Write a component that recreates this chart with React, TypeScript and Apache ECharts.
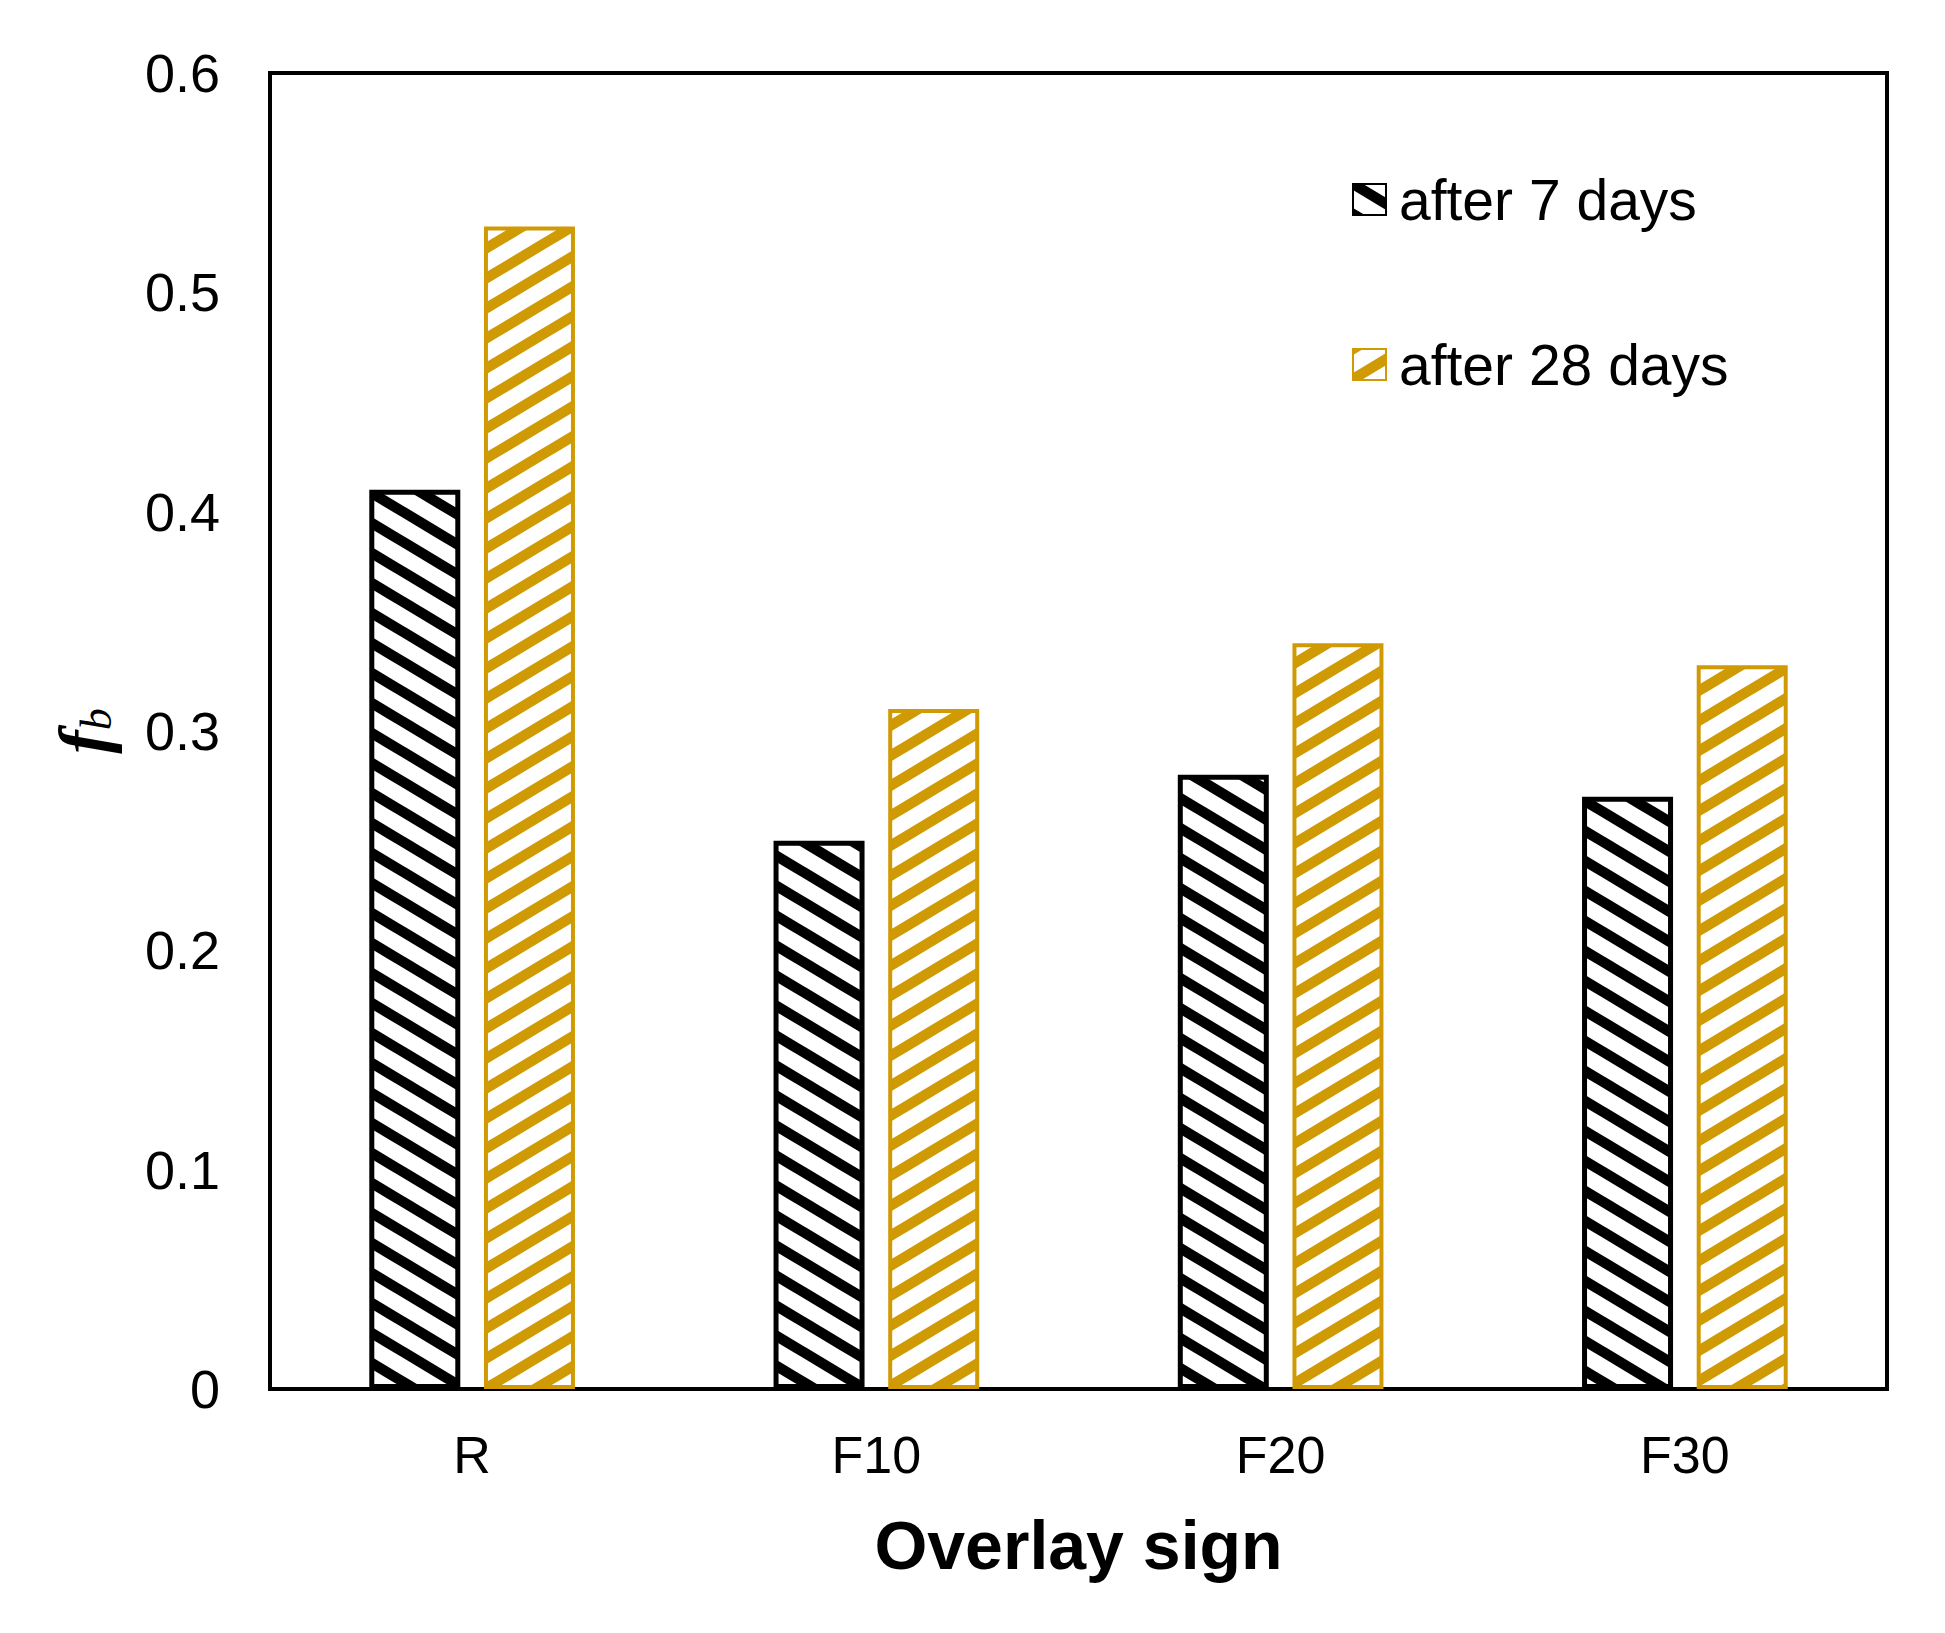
import React, { useEffect, useRef } from "react";
import * as echarts from "echarts";

const categories = ["R", "F10", "F20", "F30"];
const after7 = [0.41, 0.25, 0.28, 0.27];
const after28 = [0.53, 0.31, 0.34, 0.33];
const seriesNames = ["after 7 days", "after 28 days"];

const BLACK = "#000000";
const GOLD = "#D09A04";
const FONT = "Liberation Sans";

function makeStripe(color: string, down: boolean): HTMLCanvasElement {
  const W = 50;
  const H = 30;
  const c = document.createElement("canvas");
  c.width = W;
  c.height = H;
  const ctx = c.getContext("2d")!;
  ctx.fillStyle = "#ffffff";
  ctx.fillRect(0, 0, W, H);
  ctx.strokeStyle = color;
  ctx.lineWidth = 10.5;
  for (const o of [-H, 0, H]) {
    ctx.beginPath();
    if (down) {
      ctx.moveTo(-W, -H + o);
      ctx.lineTo(2 * W, 2 * H + o);
    } else {
      ctx.moveTo(-W, 2 * H + o);
      ctx.lineTo(2 * W, -H + o);
    }
    ctx.stroke();
  }
  return c;
}

export default function App() {
  const ref = useRef<HTMLDivElement>(null);
  useEffect(() => {
    if (!ref.current) return;
    const chart = echarts.init(ref.current, undefined, { renderer: "svg" });
    const blackPattern = { image: makeStripe(BLACK, true), repeat: "repeat" };
    const goldPattern = { image: makeStripe(GOLD, false), repeat: "repeat" };
    const legendText = { fontSize: 57, fontFamily: FONT, color: "#000", padding: [0, 0, 0, 8] };
    chart.setOption({
      animation: false,
      backgroundColor: "#ffffff",
      grid: {
        left: 270,
        right: 58,
        top: 73,
        bottom: 244,
        show: true,
        borderColor: "#000",
        borderWidth: 4,
        backgroundColor: "transparent",
      },
      legend: [
        {
          data: [seriesNames[0]],
          left: 1347,
          top: 166,
          itemWidth: 33,
          itemHeight: 31,
          icon: "rect",
          textStyle: legendText,
        },
        {
          data: [seriesNames[1]],
          left: 1347,
          top: 331,
          itemWidth: 33,
          itemHeight: 31,
          icon: "rect",
          textStyle: legendText,
        },
      ],
      xAxis: {
        type: "category",
        data: categories,
        name: "Overlay sign",
        nameLocation: "middle",
        nameGap: 122,
        nameTextStyle: { fontSize: 68, fontWeight: "bold", fontFamily: FONT, color: "#000" },
        axisLine: { show: true, lineStyle: { color: "#000", width: 4 } },
        axisTick: { show: false },
        axisLabel: { fontSize: 52, fontFamily: FONT, color: "#000", margin: 40 },
      },
      yAxis: {
        type: "value",
        min: 0,
        max: 0.6,
        interval: 0.1,
        name: "{f|f}{b|b}",
        nameLocation: "middle",
        nameGap: 152,
        nameTextStyle: {
          rich: {
            f: {
              fontSize: 70,
              lineHeight: 70,
              fontStyle: "italic",
              fontWeight: "bold",
              fontFamily: "Liberation Serif",
              color: "#000",
            },
            b: {
              fontSize: 44,
              lineHeight: 24,
              verticalAlign: "bottom",
              fontStyle: "italic",
              fontFamily: "Liberation Serif",
              color: "#000",
            },
          },
        },
        axisLine: { show: true, lineStyle: { color: "#000", width: 4 } },
        axisTick: { show: false },
        splitLine: { show: false },
        axisLabel: {
          fontSize: 54,
          fontFamily: FONT,
          color: "#000",
          margin: 50,
          formatter: (v: number) => (v === 0 ? "0" : v.toFixed(1)),
        },
      },
      series: [
        {
          name: seriesNames[0],
          type: "bar",
          data: after7,
          barWidth: 91,
          barGap: "26%",
          itemStyle: { color: blackPattern, borderColor: BLACK, borderWidth: 5 },
        },
        {
          name: seriesNames[1],
          type: "bar",
          data: after28,
          barWidth: 91,
          barGap: "26%",
          itemStyle: { color: goldPattern, borderColor: GOLD, borderWidth: 4 },
        },
      ],
    });
    return () => chart.dispose();
  }, []);
  return (
    <div
      ref={ref}
      style={{ position: "absolute", left: 0, top: 0, width: 1945, height: 1633 }}
    />
  );
}
